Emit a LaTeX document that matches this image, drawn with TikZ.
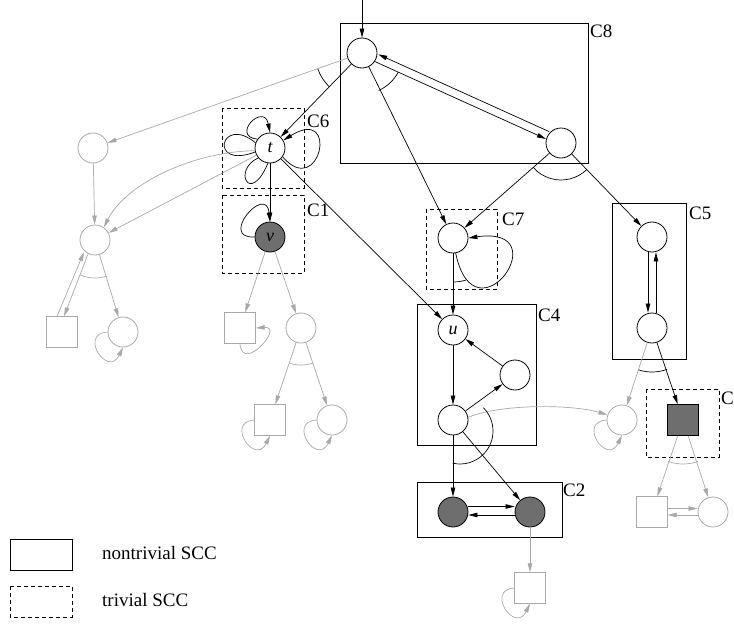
\documentclass[tikz,border=0pt]{standalone}
\usepackage{fontspec}
\setmainfont{Liberation Serif}
\usetikzlibrary{arrows.meta,calc}
\definecolor{gr}{RGB}{170,168,166}
\definecolor{dk}{RGB}{110,110,110}
\tikzset{
  nd/.style={circle,draw,fill=white,line width=0.8pt,minimum size=30pt,inner sep=0pt,font=\fontsize{18}{18}\selectfont\itshape},
  gnd/.style={circle,draw=gr,fill=white,line width=0.8pt,minimum size=30pt,inner sep=0pt},
  gsq/.style={rectangle,draw=gr,fill=white,line width=0.8pt,minimum size=30.5pt,inner sep=0pt},
  dsq/.style={rectangle,draw,fill=dk,line width=0.8pt,minimum size=31pt,inner sep=0pt},
  e/.style={-{Triangle[length=9pt,width=4.5pt]},line width=0.7pt},
  ge/.style={-{Triangle[length=9pt,width=4.5pt]},line width=0.7pt,draw=gr},
  ln/.style={line width=0.7pt},
  arcst/.style={line width=0.7pt},
  garc/.style={line width=0.7pt,draw=gr},
  scc/.style={draw,line width=0.9pt},
  tscc/.style={draw,line width=0.9pt,dash pattern=on 4pt off 3pt},
  lab/.style={anchor=west,inner sep=0pt,font=\fontsize{19}{19}\selectfont}
}
\begin{document}
\begin{tikzpicture}[x=1pt,y=-1pt]
\useasboundingbox (0,0) rectangle (734,624);

% SCC boxes
\draw[scc]  (340,23) rectangle (588,163);
\draw[tscc] (222,108) rectangle (304,188);
\draw[tscc] (222,195) rectangle (304,273);
\draw[tscc] (426,209) rectangle (497,289);
\draw[scc]  (417,304) rectangle (536,445);
\draw[scc]  (417,482) rectangle (562,537);
\draw[scc]  (612,203) rectangle (686,359);
\draw[tscc] (646,389) rectangle (719,457);

% labels
\node[lab] (lC8) at (590,31) {C8};
\node[lab] (lC6) at (307,121) {C6};
\node[lab] (lC1) at (307,210) {C1};
\node[lab] (lC7) at (502,219) {C7};
\node[lab] (lC4) at (538,315) {C4};
\node[lab] (lC5) at (689,213) {C5};
\node[lab] (lC3) at (721,398) {C};
\node[lab] (lC2) at (563,490) {C2};

% legend
\draw[scc]  (10,539) rectangle (72,570);
\draw[tscc] (10,586) rectangle (72,617);
\node[lab] (l1) at (102,553) {nontrivial SCC};
\node[lab] (l2) at (102,600) {trivial SCC};

% black nodes
\coordinate (in) at (362,0);
\node[nd] (n8a) at (362,53) {};
\node[nd] (n8b) at (561,143) {};
\node[nd] (t) at (270,148) {t};
\node[nd,fill=dk] (v) at (270,237) {v};
\node[nd] (g7) at (453,238) {};
\node[nd] (u) at (453,330) {u};
\node[nd] (c4r) at (515,375) {};
\node[nd] (c4b) at (453,420) {};
\node[nd,fill=dk] (c2a) at (453,512) {};
\node[nd,fill=dk] (c2b) at (530,512) {};
\node[nd] (c5a) at (652,237) {};
\node[nd] (c5b) at (652,328) {};
\node[dsq] (c3) at (683,420) {};

% gray nodes
\node[gnd] (g1) at (93,148) {};
\node[gnd] (g2) at (95,240) {};
\node[gsq] (q1) at (62,332) {};
\node[gnd] (g3) at (123,332) {};
\node[gsq] (q2) at (240,328) {};
\node[gnd] (g4) at (301,328) {};
\node[gsq] (q3) at (270,420) {};
\node[gnd] (g5) at (332,420) {};
\node[gnd] (g6) at (622,420) {};
\node[gsq] (q4) at (530,588) {};
\node[gsq] (q5) at (652,512) {};
\node[gnd] (g8) at (713,512) {};

% black edges
\draw[e] (in) -- (n8a);
\draw[e,transform canvas={xshift=-1.03pt,yshift=-2.28pt}] (n8a) -- (n8b);
\draw[e,transform canvas={xshift=2.27pt,yshift=5pt}] (n8b) -- (n8a);
\draw[e] (n8a) -- (t);
\draw[e] (n8a) -- (g7);
\draw[e] (n8b) -- (g7);
\draw[e] (n8b) -- (c5a);
\draw[e] (t) -- (v);
\draw[e] (t) -- (u);
\draw[e] (g7) -- (u);
\draw[e] (u) -- (c4b);
\draw[e] (c4b) -- (c4r);
\draw[e] (c4r) -- (u);
\draw[e] (c4b) -- (c2a);
\draw[e] (c4b) -- (c2b);
\draw[e,transform canvas={yshift=5.5pt}] (c2a) -- (c2b);
\draw[e,transform canvas={yshift=-3pt}] (c2b) -- (c2a);
\draw[e,transform canvas={xshift=-4pt}] (c5a) -- (c5b);
\draw[e,transform canvas={xshift=4pt}] (c5b) -- (c5a);
\draw[e] (c5b) -- (c3);

% self loops (black)
\draw[e] (t.145) .. controls ($(t)+(-40,-12)$) and ($(t)+(-6,-46)$) .. (t.north);
\draw[ln] (t.160) .. controls ($(t)+(-50,-34)$) and ($(t)+(-62,22)$) .. (t.195);
\draw[ln] (t.220) .. controls ($(t)+(-38,22)$) and ($(t)+(-20,58)$) .. (t.262);
\draw[e] (t.-35) .. controls ($(t)+(50,52)$) and ($(t)+(70,-43)$) .. (t.30);
\draw[e] (v.west) .. controls ($(v)+(-52,2)$) and ($(v)+(-4,-54)$) .. (v.north);
\draw[e] (g7.-80) .. controls ($(g7)+(22,107)$) and ($(g7)+(107,-13)$) .. (g7.east);

% gray edges
\draw[ge] (n8a) -- (g1);
\draw[ge] (g1) -- (g2);
\draw[ge] (t.190) .. controls (190,152) and (125,185) .. (g2.55);
\draw[ge] (t) -- (g2);
\draw[ge] ($(q1.north)+(-5,0)$) -- ($(g2)+(-11,12)$);
\draw[ge] ($(g2)+(-7,14)$) -- ($(q1.north)+(2,0)$);
\draw[ge] (g2) -- (g3);
\draw[ge] (v) -- (q2);
\draw[ge] (v) -- (g4);
\draw[ge] (g4) -- (q3);
\draw[ge] (g4) -- (g5);
\draw[ge] (c4b.10) .. controls (500,404) and (570,404) .. (g6.160);
\draw[ge] (c5b) -- (g6);
\draw[ge] (c2b) -- (q4);
\draw[ge] (c3) -- (q5);
\draw[ge] (c3) -- (g8);
\draw[ge,transform canvas={yshift=3.5pt}] (q5) -- (g8);
\draw[ge,transform canvas={yshift=-3pt}] (g8) -- (q5);

% gray self loops
\draw[ge] (g3.west) .. controls ($(g3)+(-45,2)$) and ($(g3)+(-15,46)$) .. (g3.south);
\draw[ge] (q3.west) .. controls ($(q3)+(-45,2)$) and ($(q3)+(-15,46)$) .. (q3.south);
\draw[ge] (g5.west) .. controls ($(g5)+(-45,2)$) and ($(g5)+(-15,46)$) .. (g5.south);
\draw[ge] (g6.west) .. controls ($(g6)+(-45,2)$) and ($(g6)+(-15,46)$) .. (g6.south);
\draw[ge] (q4.west) .. controls ($(q4)+(-45,2)$) and ($(q4)+(-15,46)$) .. (q4.south);
\draw[ge] (q2.south) .. controls ($(q2)+(2,46)$) and ($(q2)+(45,-2)$) .. (q2.east);

% AND arcs
\draw[arcst] ($(n8a)+(28:41)$) arc[start angle=28,end angle=66,radius=41];
\draw[arcst] ($(n8a)+(134:47)$) arc[start angle=134,end angle=160,radius=47];
\draw[arcst] ($(n8b)+(46:37)$) arc[start angle=46,end angle=139,radius=37];
\draw[garc] ($(g2)+(72:38)$) arc[start angle=72,end angle=113,radius=38];
\draw[garc] ($(g4)+(71:37)$) arc[start angle=71,end angle=109,radius=37];
\draw[arcst] ($(g7)+(73:44)$) arc[start angle=73,end angle=90,radius=44];
\draw[arcst] ($(c4b)+(7,11)+(-45:33)$) arc[start angle=-45,end angle=103,radius=33];
\draw[arcst] ($(c5b)+(70:44)$) arc[start angle=70,end angle=108,radius=44];
\draw[garc] ($(c3)+(70:44)$) arc[start angle=70,end angle=110,radius=44];
\end{tikzpicture}
\end{document}
